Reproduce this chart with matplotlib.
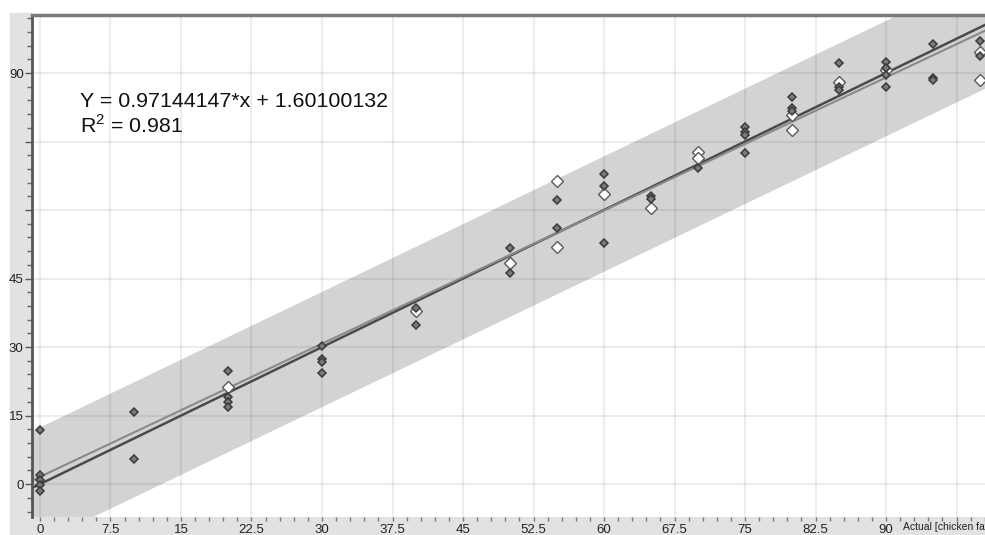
import matplotlib
matplotlib.use('Agg')
import matplotlib.pyplot as plt
from matplotlib.patches import Rectangle
from matplotlib.ticker import MultipleLocator

plt.rcParams['font.family'] = ['Liberation Sans', 'DejaVu Sans']
plt.rcParams['mathtext.fontset'] = 'custom'
plt.rcParams['mathtext.rm'] = 'Liberation Sans'

# filled markers (dark diamonds)
filled_x = [0, 0, 0, 0, 0,
            10, 10,
            20, 20, 20, 20,
            30, 30, 30, 30,
            40, 40,
            50, 50,
            55, 55,
            60, 60, 60,
            65, 65,
            70,
            75, 75, 75, 75,
            80, 80, 80,
            85, 85, 85,
            90, 90, 90, 90,
            95, 95, 95,
            100, 100]
filled_y = [11.8, 2.0, 1.0, -0.3, -1.6,
            15.8, 5.6,
            24.8, 19.0, 18.0, 16.8,
            30.2, 27.4, 26.8, 24.4,
            38.6, 34.8,
            51.6, 46.3,
            62.2, 56.0,
            68.0, 65.3, 52.8,
            63.1, 62.5,
            69.1,
            78.2, 77.1, 76.4, 72.4,
            84.8, 82.3, 81.7,
            92.1, 87.0, 86.3,
            92.5, 91.0, 89.6, 86.9,
            96.3, 88.8, 88.4,
            97.1, 93.8]

# open markers (white diamonds)
open_x = [20, 40, 50, 55, 55, 60, 65, 70, 70, 80, 80, 85, 90, 100, 100]
open_y = [21.3, 37.9, 48.5, 66.4, 52.0, 63.5, 60.4, 72.8, 71.5,
          80.8, 77.5, 88.1, 90.6, 94.5, 88.5]

fit_slope = 0.97144147
fit_intercept = 1.60100132
r_squared = 0.981

line_x = [-1, 101]
band_x = [-1, 101]
band_upper = [11.4, 112.3]
band_lower = [-13.8, 87.0]

x_ticks = [0, 7.5, 15, 22.5, 30, 37.5, 45, 52.5, 60, 67.5, 75, 82.5, 90, 97.5]
x_tick_labels = ['0', '7.5', '15', '22.5', '30', '37.5', '45', '52.5', '60',
                 '67.5', '75', '82.5', '90', '']
y_ticks = [0, 15, 30, 45, 60, 75, 90]
y_tick_labels = ['0', '15', '30', '45', '', '', '90']

W, H = 985, 535
fig = plt.figure(figsize=(W / 100, H / 100), dpi=100)
fig.add_artist(Rectangle((10 / W, 18 / H), 22 / W, (H - 13 - 18) / H,
                         transform=fig.transFigure, color='#e2e2e2', zorder=0))
fig.add_artist(Rectangle((10 / W, 0), (W - 10) / W, 18 / H,
                         transform=fig.transFigure, color='#e2e2e2', zorder=0))

ax = fig.add_axes([32 / W, 18 / H, (W - 32) / W, (517 - 15) / H])
ax.set_xlim(-0.85, 100.53)
ax.set_ylim(-7.2, 102.7)

ax.fill_between(band_x, band_lower, band_upper, color='#d3d3d3', lw=0, zorder=1)
ax.set_axisbelow('line')
ax.grid(True, which='major', color='black', alpha=0.07, lw=1.5)

ax.plot(line_x, line_x, color='#4a4a4a', lw=1.8, zorder=2)
ax.plot(line_x, [fit_slope * v + fit_intercept for v in line_x],
        color='#8a8a8a', lw=1.5, zorder=2)

ax.plot(open_x, open_y, linestyle='none', marker='D', ms=6.2,
        mfc='white', mec='#5a5a5a', mew=1.0, zorder=3)
ax.plot(filled_x, filled_y, linestyle='none', marker='D', ms=4.5,
        mfc='#7a7a7a', mec='#3a3a3a', mew=1.1, zorder=4)

ax.set_xticks(x_ticks)
ax.set_xticklabels(x_tick_labels)
ax.xaxis.set_minor_locator(MultipleLocator(1.5))
ax.set_yticks(y_ticks)
ax.set_yticklabels(y_tick_labels)
ax.yaxis.set_minor_locator(MultipleLocator(3))

ax.tick_params(axis='x', which='both', direction='out', length=3, width=1,
               color='#777777', labelsize=9.5, pad=2, labelcolor='#222222')
ax.tick_params(axis='y', which='major', direction='out', length=5, width=1,
               color='#555555', labelsize=9.5, pad=1, labelcolor='#222222')
ax.tick_params(axis='y', which='minor', direction='out', length=3.5, width=1,
               color='#666666')

for side in ('right', 'bottom'):
    ax.spines[side].set_visible(False)
ax.spines['left'].set_color('#555555')
ax.spines['left'].set_linewidth(2)
ax.spines['top'].set_color('#7a7a7a')
ax.spines['top'].set_linewidth(2.5)

# axis title runs off the right edge, as in the source figure
fig.text(903 / W, 3 / H, 'Actual [chicken fat]', fontsize=7.5, color='#222222',
         va='bottom', ha='left')

fig.text(80 / W, (H - 107) / H, f'Y = {fit_slope:.8f}*x + {fit_intercept:.8f}',
         fontsize=15.4, va='baseline', ha='left', color='#111111')
fig.text(80 / W, (H - 133) / H, f'R$^2$ = {r_squared}',
         fontsize=15.4, va='baseline', ha='left', color='#111111')

fig.savefig('out.png', dpi=100)
